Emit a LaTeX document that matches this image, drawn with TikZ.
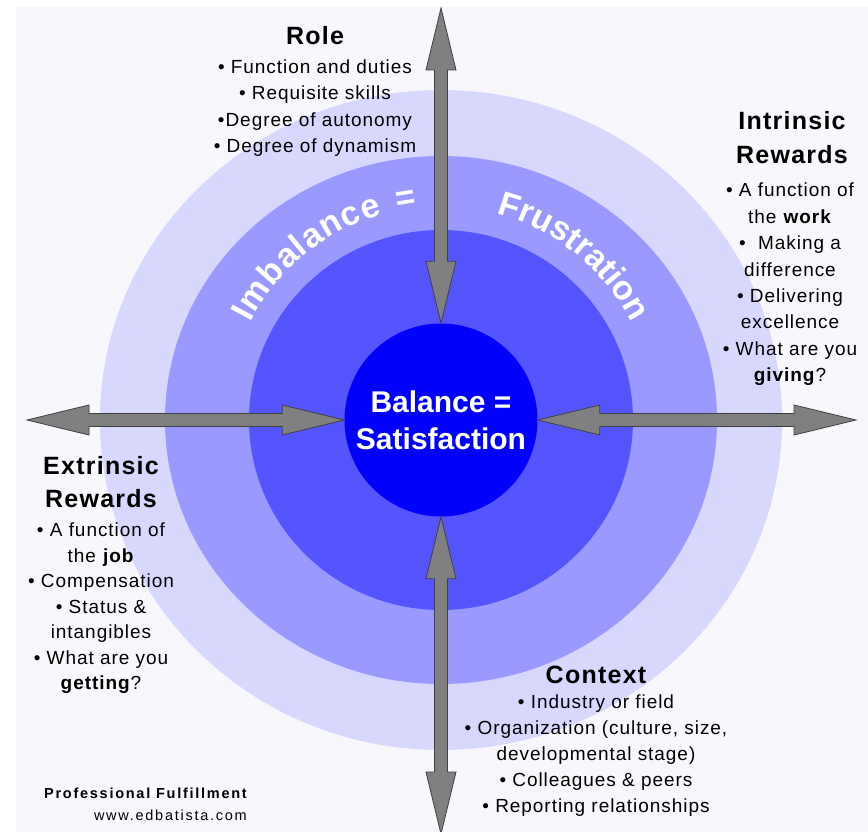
\documentclass[tikz,border=0pt]{standalone}
\usepackage{fontspec}
\setmainfont{Liberation Sans}
\newfontfamily\spaced[LetterSpace=5]{Liberation Sans}
\newfontfamily\footfont[LetterSpace=12]{Liberation Sans}
\usetikzlibrary{calc,decorations.text}

\definecolor{pagebg}{RGB}{247,247,252}
\definecolor{ringouter}{RGB}{216,216,255}
\definecolor{ringmid}{RGB}{153,153,255}
\definecolor{ringinner}{RGB}{85,85,255}
\definecolor{core}{RGB}{0,0,255}
\definecolor{arrowgray}{RGB}{128,128,128}
\definecolor{arrowline}{RGB}{64,64,64}

\newcommand{\arcfont}{\bfseries\fontsize{34}{40}\selectfont\color{white}}

\tikzset{
  head/.style={font=\spaced\bfseries\fontsize{25}{33}\selectfont,align=center,inner sep=0pt},
  bul/.style={font=\spaced\fontsize{19}{26.3}\selectfont,align=center,inner sep=0pt},
  foot/.style={font=\footfont\fontsize{14.5}{18}\selectfont,anchor=base east,inner sep=0pt},
  arcword/.style={decorate,decoration={text along path,text={|\arcfont|#1},text align={fit to path}}},
  % fat double headed arrow between two points
  fatarrow/.style={draw=arrowline,fill=arrowgray,line width=0.8pt,line join=miter,
    to path={
      -- ($(\tikztostart)!62pt!(\tikztotarget)!15pt!90:(\tikztotarget)$)
      -- ($(\tikztostart)!62pt!(\tikztotarget)!6.5pt!90:(\tikztotarget)$)
      -- ($(\tikztotarget)!62pt!(\tikztostart)!6.5pt!-90:(\tikztostart)$)
      -- ($(\tikztotarget)!62pt!(\tikztostart)!15pt!-90:(\tikztostart)$)
      -- (\tikztotarget)
      -- ($(\tikztotarget)!62pt!(\tikztostart)!15pt!90:(\tikztostart)$)
      -- ($(\tikztotarget)!62pt!(\tikztostart)!6.5pt!90:(\tikztostart)$)
      -- ($(\tikztostart)!62pt!(\tikztotarget)!6.5pt!-90:(\tikztotarget)$)
      -- ($(\tikztostart)!62pt!(\tikztotarget)!15pt!-90:(\tikztotarget)$)
      -- cycle}}
}

\begin{document}
\begin{tikzpicture}[x=1pt,y=1pt]
\useasboundingbox (0,0) rectangle (868,-832);
\fill[pagebg] (16,-7) rectangle (868,-832);

% rings
\coordinate (ctr) at (441,-420);
\fill[ringouter] (ctr) ellipse[x radius=341,y radius=330];
\fill[ringmid] (ctr) ellipse[x radius=276,y radius=264];
\fill[ringinner] (ctr) ellipse[x radius=192,y radius=190];

\path[arcword=Imbalance] (ctr) ++(153:214) arc[start angle=153,end angle=106,radius=214];
\path[decorate,decoration={text along path,text={|\arcfont|=},text align=center}]
  (ctr) ++(109:214) arc[start angle=109,end angle=89,radius=214];
\path[arcword=Frustration] (ctr) ++(75:214) arc[start angle=75,end angle=29,radius=214];

\node[circle,fill=core,minimum size=193pt,inner sep=0pt,text=white,align=center,
  font=\bfseries\fontsize{30}{37}\selectfont] (bal) at (ctr) {Balance =\\ Satisfaction};

% arrows
\coordinate (roleEnd) at (441,-8);
\coordinate (intrEnd) at (856,-420);
\coordinate (ctxEnd) at (441,-834);
\coordinate (extrEnd) at (27,-420);
\draw[fatarrow] (bal.north) to (roleEnd);
\draw[fatarrow] (bal.east) to (intrEnd);
\draw[fatarrow] (bal.south) to (ctxEnd);
\draw[fatarrow] (bal.west) to (extrEnd);

% Role
\node[head,anchor=base] (role) at (315,-45) {Role};
\node[bul] (roleList) at (315,-108) {• Function and duties\\ • Requisite skills\\ •Degree of autonomy\\ • Degree of dynamism};

% Intrinsic
\node[head,font=\spaced\bfseries\fontsize{25}{34}\selectfont] (intr) at (792,-137.5) {Intrinsic\\ Rewards};
\node[bul,font=\spaced\fontsize{19}{26.4}\selectfont] (intrList) at (790,-284.5) {• A function of\\ the \textbf{work}\\ •~ Making a\\ difference\\ • Delivering\\ excellence\\ • What are you\\ \textbf{giving}?};

% Extrinsic
\node[head] (extr) at (101,-482.5) {Extrinsic\\ Rewards};
\node[bul,font=\spaced\fontsize{19}{25.5}\selectfont] (extrList) at (101,-608.5) {• A function of\\ the \textbf{job}\\ • Compensation\\ • Status \&\\ intangibles\\ • What are you\\ \textbf{getting}?};

% Context
\node[head,anchor=base] (ctx) at (596,-683) {Context};
\node[bul,font=\spaced\fontsize{19}{26.2}\selectfont] (ctxList) at (596,-755.5) {• Industry or field\\ • Organization (culture, size,\\ developmental stage)\\ • Colleagues \& peers\\ • Reporting relationships};

% footer
\node[foot,font=\footfont\bfseries\fontsize{14.5}{18}\selectfont] (title) at (247,-798) {Professional Fulfillment};
\node[foot] (web) at (247,-820) {www.edbatista.com};
\end{tikzpicture}
\end{document}
